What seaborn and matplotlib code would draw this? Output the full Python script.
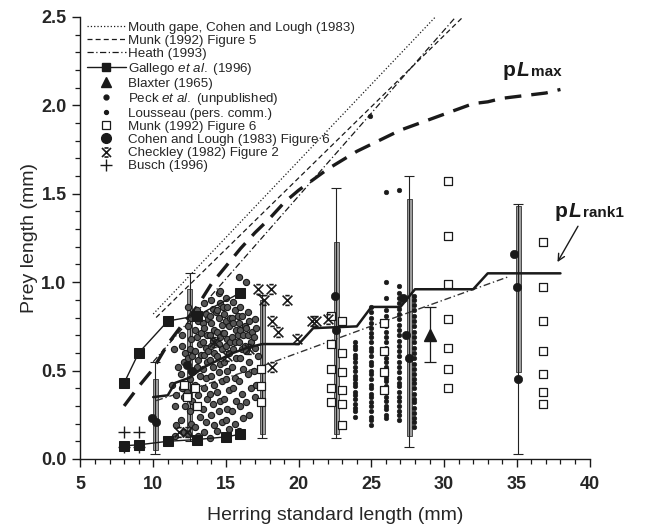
import numpy as np
import pandas as pd
import matplotlib
matplotlib.use("Agg")
import matplotlib.pyplot as plt
import seaborn as sns
from matplotlib.path import Path
from matplotlib.lines import Line2D
from matplotlib.ticker import MultipleLocator
from matplotlib.offsetbox import TextArea, HPacker, AnnotationBbox

sns.set_theme(style="ticks")
plt.rcParams['font.family'] = ['Liberation Sans', 'DejaVu Sans']
plt.rcParams['mathtext.fontset'] = 'custom'
plt.rcParams['mathtext.rm'] = 'Liberation Sans'
plt.rcParams['mathtext.it'] = 'Liberation Sans:italic'
plt.rcParams['mathtext.bf'] = 'Liberation Sans:bold'

# ---------------- data ----------------
gape_x = [10.0, 29.4]
gape_y = [0.82, 2.5]
munk5_x = [10.2, 31.3]
munk5_y = [0.80, 2.5]
heath_x = [10.0, 30.8]
heath_y = [0.55, 2.5]
heath_low_x = [10.2, 17.3, 25.6, 34.4]
heath_low_y = [0.33, 0.52, 0.77, 1.03]

plmax_x = [8, 9, 10, 11, 12, 13, 14, 15, 16, 17, 18, 19, 20, 21, 22, 23, 24,
           25, 26, 27, 28, 29, 30, 31, 32, 33, 34, 35, 36, 37, 38]
plmax_y = [0.30, 0.41, 0.51, 0.65, 0.76, 0.86, 0.99, 1.09, 1.19, 1.28, 1.36,
           1.45, 1.52, 1.58, 1.64, 1.69, 1.74, 1.78, 1.82, 1.86, 1.89, 1.92,
           1.95, 1.98, 2.01, 2.02, 2.04, 2.05, 2.06, 2.07, 2.09]

plrank_x = [10.0, 11.0, 11.5, 12.5, 13.5, 14.5, 15.5, 16.5, 17.5, 20.0, 21.0,
            24.0, 25.0, 27.0, 28.0, 32.0, 33.0, 38.0]
plrank_y = [0.35, 0.36, 0.43, 0.46, 0.52, 0.56, 0.60, 0.63, 0.65, 0.65, 0.74,
            0.75, 0.86, 0.86, 0.96, 0.96, 1.05, 1.05]

gallego_hi_x = [8, 9, 11, 13, 16]
gallego_hi_y = [0.43, 0.60, 0.78, 0.81, 0.94]
gallego_lo_x = [8, 9, 11, 13, 15, 16]
gallego_lo_y = [0.075, 0.08, 0.10, 0.11, 0.125, 0.14]

busch_x = [8, 9, 8, 9]
busch_y = [0.15, 0.15, 0.07, 0.07]

blaxter_x = [29.0]
blaxter_y = [0.70]
blaxter_lo = [0.55]
blaxter_hi = [0.86]

# error bars (whisker range) and grey bars
eb_x = [10.15, 12.5, 17.5, 22.6, 27.6, 35.1]
eb_wlo = [0.03, 0.10, 0.12, 0.12, 0.07, 0.03]
eb_whi = [0.55, 1.05, 0.93, 1.53, 1.60, 1.44]
eb_blo = [0.05, 0.13, 0.14, 0.14, 0.13, 0.49]
eb_bhi = [0.45, 0.96, 0.90, 1.23, 1.47, 1.43]

cohen_x = [9.95, 10.2, 12.3, 12.7, 22.5, 22.6, 27.2, 27.4, 27.6, 34.8, 35.0, 35.1]
cohen_y = [0.23, 0.21, 0.53, 0.50, 0.92, 0.73, 0.91, 0.70, 0.57, 1.16, 0.97, 0.45]

munk6_x = [17.4, 17.4, 17.4,
           22.2, 22.2, 22.2, 22.2, 22.2,
           23.0, 23.0, 23.0, 23.0, 23.0, 23.0,
           25.9, 25.9, 25.9, 25.9,
           30.3, 30.3, 30.3, 30.3, 30.3, 30.3, 30.3,
           36.8, 36.8, 36.8, 36.8, 36.8, 36.8, 36.8,
           12.1, 12.3, 12.9, 13.0]
munk6_y = [0.51, 0.41, 0.32,
           0.81, 0.65, 0.51, 0.40, 0.32,
           0.78, 0.60, 0.49, 0.39, 0.31, 0.19,
           0.77, 0.61, 0.49, 0.39,
           1.57, 1.26, 0.99, 0.79, 0.63, 0.51, 0.40,
           1.23, 0.97, 0.78, 0.61, 0.48, 0.38, 0.31,
           0.42, 0.35, 0.40, 0.30]

checkley_x = [17.2, 18.1, 17.6, 19.2, 18.2, 18.6, 19.9, 18.2, 20.9, 21.2, 22.0,
              11.8, 12.3, 14.2, 15.1, 16.6]
checkley_y = [0.96, 0.96, 0.90, 0.90, 0.78, 0.72, 0.68, 0.52, 0.78, 0.78, 0.79,
              0.15, 0.15, 0.66, 0.58, 0.62]

# Lousseau: dense columns of small dots
lous_x = ([23.9] * 19 + [25.0] * 26 + [26.0] * 26 + [26.9] * 28 + [27.9] * 27
          + [24.9])
lous_y = ([0.24, 0.27, 0.29, 0.31, 0.34, 0.36, 0.38, 0.41, 0.43, 0.45, 0.47,
           0.50, 0.52, 0.55, 0.57, 0.59, 0.62, 0.64, 0.66]
          + [0.19, 0.22, 0.24, 0.27, 0.30, 0.32, 0.35, 0.37, 0.40, 0.42, 0.45,
             0.48, 0.50, 0.53, 0.55, 0.58, 0.61, 0.63, 0.66, 0.69, 0.71, 0.74,
             0.77, 0.80, 0.83, 0.86]
          + [0.23, 0.25, 0.28, 0.30, 0.33, 0.35, 0.38, 0.41, 0.44, 0.46, 0.49,
             0.52, 0.55, 0.57, 0.60, 0.63, 0.66, 0.69, 0.72, 0.75, 0.78, 0.81,
             0.84, 0.91, 1.00, 1.51]
          + [0.22, 0.25, 0.27, 0.30, 0.33, 0.35, 0.38, 0.41, 0.43, 0.46, 0.49,
             0.52, 0.55, 0.58, 0.61, 0.64, 0.67, 0.70, 0.73, 0.76, 0.79, 0.82,
             0.85, 0.88, 0.91, 0.94, 0.98, 1.52]
          + [0.18, 0.21, 0.23, 0.26, 0.29, 0.32, 0.34, 0.37, 0.40, 0.43, 0.45,
             0.48, 0.51, 0.54, 0.57, 0.60, 0.63, 0.66, 0.69, 0.72, 0.75, 0.78,
             0.81, 0.84, 0.87, 0.90, 0.92]
          + [1.94])

# Peck et al.: dense cloud between 11 and 17.5 mm
peck_x = [11.4, 11.5, 11.6, 11.3, 11.7, 11.5, 11.6,
          12.0, 11.9, 12.1, 12.0, 12.2, 11.9, 12.1, 12.0, 12.2, 12.1,
          12.4, 12.6, 12.5, 12.4, 12.6, 12.5, 12.3, 12.7, 12.5, 12.6, 12.4, 12.6, 12.7,
          13.0, 13.1, 12.9, 13.0, 13.2, 12.9, 13.1, 13.0, 13.2, 12.9, 13.1, 13.0, 13.2, 12.9, 13.1, 13.3, 13.3,
          13.5, 13.6, 13.4, 13.5, 13.7, 13.4, 13.6, 13.5, 13.7, 13.4, 13.6, 13.5, 13.7, 13.4, 13.6, 13.5, 13.8, 13.8,
          14.0, 14.1, 13.9, 14.0, 14.2, 13.9, 14.1, 14.0, 14.2, 13.9, 14.1, 14.0, 14.2, 13.9, 14.1, 14.0, 14.2, 13.9, 14.3, 14.3,
          14.5, 14.6, 14.4, 14.5, 14.7, 14.4, 14.6, 14.5, 14.7, 14.4, 14.6, 14.5, 14.7, 14.4, 14.6, 14.5, 14.7, 14.4, 14.8, 14.8,
          15.0, 15.1, 14.9, 15.0, 15.2, 14.9, 15.1, 15.0, 15.2, 14.9, 15.1, 15.0, 15.2, 14.9, 15.1, 15.0, 15.2, 15.3, 15.3,
          15.5, 15.6, 15.4, 15.5, 15.7, 15.4, 15.6, 15.5, 15.7, 15.4, 15.6, 15.5, 15.7, 15.4, 15.6, 15.8, 15.8,
          16.0, 16.1, 15.9, 16.0, 16.2, 15.9, 16.1, 16.0, 16.2, 15.9, 16.1, 16.0, 16.2, 15.9, 16.3, 16.3,
          16.5, 16.6, 16.4, 16.5, 16.7, 16.4, 16.6, 16.5, 16.7, 16.4, 16.6, 16.8,
          17.0, 17.1, 16.9, 17.0, 17.2, 16.9, 17.1, 17.0,
          15.9, 16.4, 14.6, 12.4]
peck_y = [0.62, 0.30, 0.19, 0.42, 0.52, 0.13, 0.36,
          0.64, 0.48, 0.55, 0.40, 0.30, 0.22, 0.15, 0.70, 0.60, 0.35,
          0.75, 0.68, 0.62, 0.57, 0.50, 0.45, 0.38, 0.33, 0.27, 0.20, 0.14, 0.80, 0.58,
          0.84, 0.78, 0.73, 0.69, 0.65, 0.61, 0.56, 0.52, 0.47, 0.42, 0.36, 0.30, 0.24, 0.18, 0.13, 0.71, 0.59,
          0.88, 0.82, 0.77, 0.74, 0.70, 0.66, 0.63, 0.59, 0.55, 0.51, 0.46, 0.40, 0.34, 0.28, 0.21, 0.15, 0.79, 0.61,
          0.90, 0.85, 0.81, 0.77, 0.73, 0.70, 0.67, 0.64, 0.60, 0.56, 0.52, 0.47, 0.42, 0.37, 0.31, 0.25, 0.19, 0.12, 0.83, 0.66,
          0.94, 0.88, 0.84, 0.80, 0.76, 0.72, 0.69, 0.65, 0.62, 0.58, 0.54, 0.49, 0.44, 0.38, 0.33, 0.27, 0.21, 0.16, 0.86, 0.71,
          0.91, 0.86, 0.82, 0.78, 0.75, 0.71, 0.68, 0.64, 0.60, 0.55, 0.50, 0.45, 0.39, 0.34, 0.28, 0.22, 0.17, 0.80, 0.66,
          0.89, 0.84, 0.80, 0.77, 0.73, 0.69, 0.66, 0.62, 0.57, 0.52, 0.46, 0.40, 0.33, 0.27, 0.20, 0.81, 0.70,
          0.86, 0.81, 0.77, 0.73, 0.70, 0.66, 0.62, 0.57, 0.51, 0.44, 0.37, 0.30, 0.23, 0.16, 0.75, 0.64,
          0.83, 0.78, 0.74, 0.70, 0.66, 0.61, 0.55, 0.48, 0.40, 0.32, 0.25, 0.72,
          0.79, 0.74, 0.69, 0.63, 0.58, 0.50, 0.42, 0.35,
          1.03, 1.00, 0.95, 0.86]

x_ticks = [5, 10, 15, 20, 25, 30, 35, 40]
y_ticks = [0.0, 0.5, 1.0, 1.5, 2.0, 2.5]

# ---------------- figure ----------------
fig = plt.figure(figsize=(6.46, 5.30), dpi=100)
ax = fig.add_axes([0.1246, 0.134, 0.788, 0.834])

# checkley marker (X with short horizontal bars)
ck_path = Path([(-1, -1), (1, 1), (-1, 1), (1, -1), (-0.45, 1), (0.45, 1), (-0.45, -1), (0.45, -1)],
               [Path.MOVETO, Path.LINETO, Path.MOVETO, Path.LINETO,
                Path.MOVETO, Path.LINETO, Path.MOVETO, Path.LINETO])

# grey bars + whiskers
ax.bar(eb_x, np.array(eb_bhi) - np.array(eb_blo), bottom=eb_blo, width=0.32,
       color='#a0a0a0', edgecolor='#333333', linewidth=0.6, zorder=2)
mid = (np.array(eb_wlo) + np.array(eb_whi)) / 2
ax.errorbar(eb_x, mid, yerr=[mid - np.array(eb_wlo), np.array(eb_whi) - mid],
            fmt='none', ecolor='#222222', elinewidth=0.8, capsize=3.5,
            capthick=0.8, zorder=3)

# lines
sns.lineplot(x=gape_x, y=gape_y, ax=ax, color='k', lw=0.9, linestyle=':',
             estimator=None, sort=False, legend=False)
sns.lineplot(x=munk5_x, y=munk5_y, ax=ax, color='k', lw=0.9, linestyle=(0, (4, 2.5)),
             estimator=None, sort=False, legend=False)
sns.lineplot(x=heath_x, y=heath_y, ax=ax, color='k', lw=0.9,
             linestyle=(0, (5, 2, 1, 2)), estimator=None, sort=False, legend=False)
sns.lineplot(x=heath_low_x, y=heath_low_y, ax=ax, color='#333333', lw=1.0,
             linestyle=(0, (5, 2, 1, 2)), estimator=None, sort=False, legend=False)
sns.lineplot(x=plmax_x, y=plmax_y, ax=ax, color='k', lw=2.4,
             linestyle=(0, (5, 3)), estimator=None, sort=False, legend=False)

# scatter clouds
sns.scatterplot(x=peck_x, y=peck_y, ax=ax, color='#555555', edgecolor='k',
                linewidth=0.8, s=20, marker='o', zorder=4, legend=False)
sns.scatterplot(x=lous_x, y=lous_y, ax=ax, color='k', edgecolor='k',
                linewidth=0.4, s=11, marker='o', zorder=4, legend=False)

sns.lineplot(x=plrank_x, y=plrank_y, ax=ax, color='k', lw=1.8,
             estimator=None, sort=False, legend=False, zorder=6)

sns.lineplot(x=gallego_hi_x, y=gallego_hi_y, ax=ax, color='k', lw=1.0, marker='s',
             markersize=6.5, markeredgecolor='k', estimator=None, sort=False, legend=False, zorder=6)
sns.lineplot(x=gallego_lo_x, y=gallego_lo_y, ax=ax, color='k', lw=1.0, marker='s',
             markersize=6.5, markeredgecolor='k', estimator=None, sort=False, legend=False, zorder=6)

sns.scatterplot(x=munk6_x, y=munk6_y, ax=ax, color='white', edgecolor='k',
                linewidth=0.9, s=28, marker='s', zorder=7, legend=False)
sns.scatterplot(x=cohen_x, y=cohen_y, ax=ax, color='k', edgecolor='k',
                s=36, marker='o', zorder=7, legend=False)
ax.plot(checkley_x, checkley_y, ls='none', marker=ck_path, ms=7, mew=1.2,
        mec='k', mfc='none', zorder=7)
ax.plot(busch_x, busch_y, ls='none', marker='+', ms=8, mew=1.0, color='k', zorder=7)
ax.errorbar(blaxter_x, blaxter_y,
            yerr=[[blaxter_y[0] - blaxter_lo[0]], [blaxter_hi[0] - blaxter_y[0]]],
            fmt='^', color='k', ms=8, elinewidth=0.9, capsize=4, capthick=0.9, zorder=7)

# axes
ax.set_xlim(5, 40)
ax.set_ylim(0, 2.5)
ax.set_xticks(x_ticks)
ax.set_yticks(y_ticks)
ax.set_xticklabels([str(v) for v in x_ticks])
ax.set_yticklabels([f"{v:.1f}" for v in y_ticks])
ax.xaxis.set_minor_locator(MultipleLocator(1))
ax.yaxis.set_minor_locator(MultipleLocator(0.1))
ax.tick_params(which='major', length=6, width=1.0, color='k', labelsize=13, pad=4)
ax.tick_params(axis='x', which='major', pad=6)
ax.tick_params(which='minor', length=3.5, width=0.9, color='k')
for lab in ax.get_xticklabels() + ax.get_yticklabels():
    lab.set_fontweight('bold')
sns.despine(ax=ax)
for sp in ['left', 'bottom']:
    ax.spines[sp].set_color('k')
    ax.spines[sp].set_linewidth(1.0)
ax.set_xlabel("Herring standard length (mm)", fontsize=14, labelpad=10)
ax.set_ylabel("Prey length (mm)", fontsize=14, labelpad=2)

# legend
handles = [
    Line2D([], [], color='k', lw=0.9, ls=':'),
    Line2D([], [], color='k', lw=0.9, ls=(0, (4, 2.5))),
    Line2D([], [], color='k', lw=0.9, ls=(0, (5, 2, 1, 2))),
    Line2D([], [], color='k', lw=1.0, marker='s', ms=6),
    Line2D([], [], color='k', ls='none', marker='^', ms=7),
    Line2D([], [], color='k', ls='none', marker='o', ms=3.5),
    Line2D([], [], color='k', ls='none', marker='o', ms=2.8),
    Line2D([], [], color='k', ls='none', marker='s', ms=6, mfc='white', mew=0.9),
    Line2D([], [], color='k', ls='none', marker='o', ms=7),
    Line2D([], [], color='k', ls='none', marker=ck_path, ms=6.5, mfc='none', mew=1.2),
    Line2D([], [], color='k', ls='none', marker='+', ms=8, mew=1.0),
]
labels = [
    "Mouth gape, Cohen and Lough (1983)",
    "Munk (1992) Figure 5",
    "Heath (1993)",
    r"Gallego $\mathit{et\ al.}$ (1996)",
    "Blaxter (1965)",
    r"Peck $\mathit{et\ al.}$ (unpublished)",
    "Lousseau (pers. comm.)",
    "Munk (1992) Figure 6",
    "Cohen and Lough (1983) Figure 6",
    "Checkley (1982) Figure 2",
    "Busch (1996)",
]
leg = ax.legend(handles, labels, loc='upper left', bbox_to_anchor=(0.013, 0.99),
                frameon=False, fontsize=9.6, handlelength=2.9, handletextpad=0.15,
                labelspacing=0.06, borderaxespad=0, borderpad=0)
leg.set_zorder(10)


def label_box(parts):
    areas = [TextArea(t, textprops=dict(fontsize=fs, fontweight='bold', fontstyle=st,
                                        color='k', family=['Liberation Sans']))
             for t, fs, st in parts]
    return HPacker(children=areas, align='baseline', pad=0, sep=1)


ab1 = AnnotationBbox(label_box([("p", 15, 'normal'), ("L", 15, 'italic'), ("max", 11, 'normal')]),
                     (34.0, 2.20), xycoords='data', frameon=False, box_alignment=(0, 0.5),
                     annotation_clip=False, zorder=11)
ax.add_artist(ab1)
ab2 = AnnotationBbox(label_box([("p", 15, 'normal'), ("L", 15, 'italic'), ("rank1", 11, 'normal')]),
                     (37.6, 1.40), xycoords='data', frameon=False, box_alignment=(0, 0.5),
                     annotation_clip=False, zorder=11)
ax.add_artist(ab2)
ax.annotate('', xy=(37.7, 1.10), xytext=(39.3, 1.33), xycoords='data',
            arrowprops=dict(arrowstyle='->', color='k', lw=1.0, mutation_scale=12),
            annotation_clip=False, zorder=11)

fig.savefig("out.png", dpi=100)
